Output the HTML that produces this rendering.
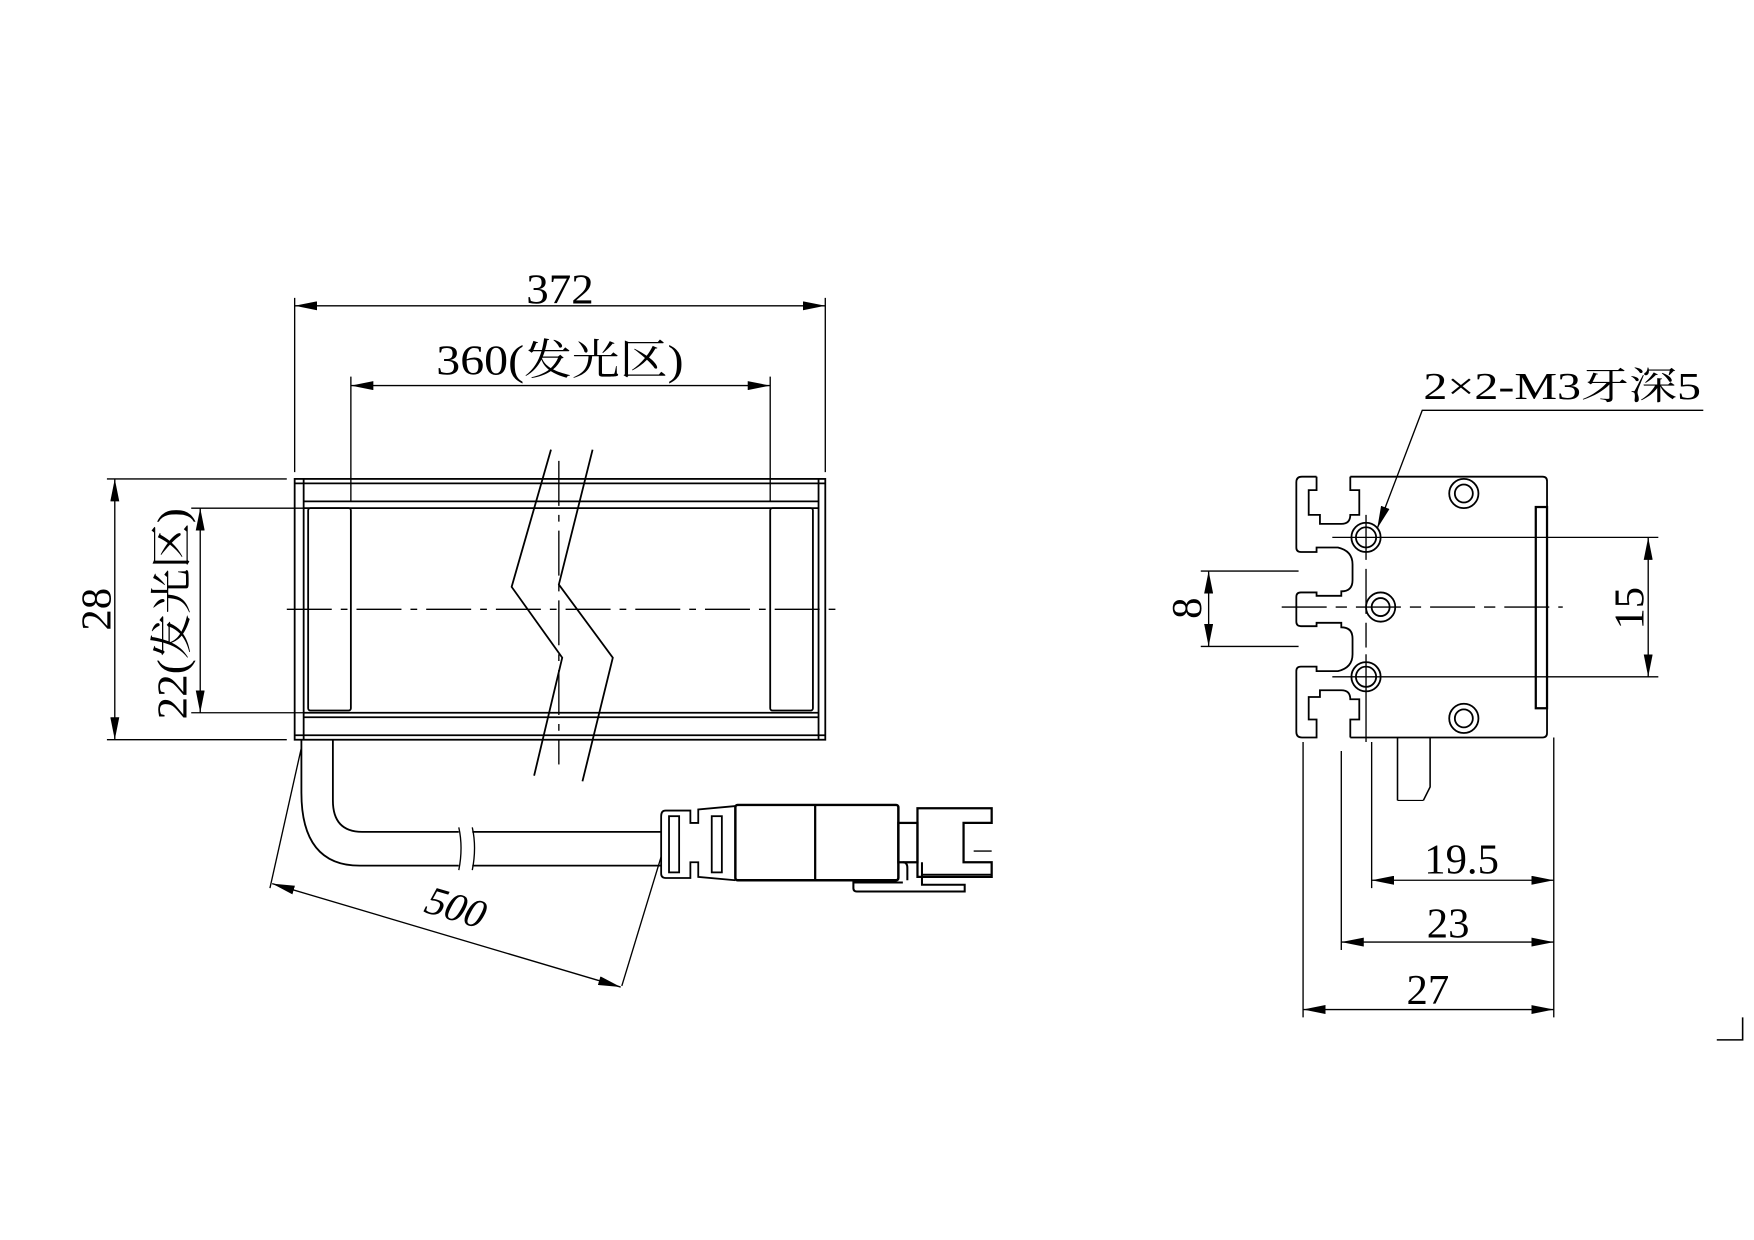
<!DOCTYPE html>
<html><head><meta charset="utf-8"><style>
html,body{margin:0;padding:0;background:#fff}
svg{display:block}
text{font-family:"Liberation Serif","Noto Serif CJK SC",serif;fill:#000}
</style></head><body>
<svg width="1754" height="1240" viewBox="0 0 1560 1103" xmlns="http://www.w3.org/2000/svg">
<defs>
<marker id="a" viewBox="0 0 20 8" refX="20" refY="4" markerWidth="20" markerHeight="8" markerUnits="userSpaceOnUse" orient="auto-start-reverse"><path d="M0,0 L20,4 L0,8 z" fill="#000"/></marker>
</defs>
<g stroke="#000" fill="none" stroke-width="1.6">
<rect x="262" y="426" width="472" height="232"/>
<line x1="262" y1="430" x2="734" y2="430"/>
<line x1="270" y1="446" x2="728" y2="446"/>
<line x1="270" y1="452" x2="728" y2="452"/>
<line x1="270" y1="634" x2="728" y2="634"/>
<line x1="270" y1="638" x2="728" y2="638"/>
<line x1="262" y1="654" x2="734" y2="654"/>
<line x1="270" y1="426" x2="270" y2="658"/>
<line x1="728" y1="426" x2="728" y2="658"/>
<rect x="274" y="452" width="38" height="180" rx="2"/>
<rect x="685" y="452" width="38" height="180" rx="2"/>
<polyline points="490,400 455,522 500,585 475,690"/>
<polyline points="527,400 497,520 545,585 518,695"/>
<line x1="255" y1="542" x2="745" y2="542" stroke-dasharray="40,8,6,8" stroke-width="1.2"/>
<line x1="497" y1="410" x2="497" y2="680" stroke-dasharray="40,8,6,8" stroke-width="1.2"/>
<line x1="262" y1="265" x2="262" y2="420" stroke-width="1.2"/>
<line x1="734" y1="265" x2="734" y2="420" stroke-width="1.2"/>
<line x1="262" y1="272" x2="734" y2="272" marker-start="url(#a)" marker-end="url(#a)" stroke-width="1.2"/>
<line x1="312" y1="335" x2="312" y2="446" stroke-width="1.2"/>
<line x1="685" y1="335" x2="685" y2="446" stroke-width="1.2"/>
<line x1="312" y1="343" x2="685" y2="343" marker-start="url(#a)" marker-end="url(#a)" stroke-width="1.2"/>
<line x1="95" y1="426" x2="255" y2="426" stroke-width="1.2"/>
<line x1="95" y1="658" x2="255" y2="658" stroke-width="1.2"/>
<line x1="102" y1="426" x2="102" y2="658" marker-start="url(#a)" marker-end="url(#a)" stroke-width="1.2"/>
<line x1="170" y1="452" x2="270" y2="452" stroke-width="1.2"/>
<line x1="170" y1="634" x2="270" y2="634" stroke-width="1.2"/>
<line x1="178" y1="452" x2="178" y2="634" marker-start="url(#a)" marker-end="url(#a)" stroke-width="1.2"/>
<path d="M268,658 V705 Q268,770 320,770 H408"/>
<path d="M296,658 V712 Q296,740 322,740 H408"/>
<path d="M420,740 H588 M420,770 H588"/>
<path d="M408,736 q4,18 0,38 M420,736 q4,18 0,38" stroke-width="1.2"/>
<path d="M592,721 L614,721 L614,732 L621,732 L621,720 L654,717 M592,781 L614,781 L614,767 L621,767 L621,780 L654,783 M592,721 Q588,721 588,726 V777 Q588,781 592,781"/>
<rect x="595" y="726" width="9" height="50"/>
<rect x="633" y="726" width="9" height="50"/>
<rect x="654" y="716" width="145" height="67" rx="2" stroke-width="2.2"/>
<line x1="725" y1="716" x2="725" y2="783" stroke-width="2"/>
<rect x="799" y="732" width="17" height="35" stroke-width="2"/>
<path d="M816,719 H882 V732 H857 V767 H882 V780 H816 Z" stroke-width="2"/>
<line x1="820" y1="778" x2="882" y2="778"/>
<line x1="866" y1="757" x2="882" y2="757" stroke-width="1.2"/>
<path d="M803,767 Q807,767 807,772 V783 M820,767 V787 H858 V793 H762 Q759,793 759,790 V785 H803" stroke-width="1.8"/>
<line x1="268" y1="665" x2="240" y2="790" stroke-width="1.2"/>
<line x1="588" y1="762" x2="553" y2="877" stroke-width="1.2"/>
<line x1="242" y1="786" x2="552" y2="878" marker-start="url(#a)" marker-end="url(#a)" stroke-width="1.2"/>
<path d="M1171,424 H1158 Q1153,424 1153,429 V487 Q1153,491 1157,491 H1171 V487 H1190 Q1203,490 1203,502 V516 Q1203,526 1193,526 V530 H1171 V527 H1157 Q1153,527 1153,531 V553 Q1153,557 1157,557 H1171 V554 H1193 V558 Q1203,558 1203,568 V582 Q1203,594 1190,597 H1171 V593 H1157 Q1153,593 1153,597 V651 Q1153,656 1158,656 H1171 V640 H1164 V620 H1174 V614 H1193 Q1201,614 1201,622 H1209 V640 H1201 V656"/>
<path d="M1171,424 V436 H1164 V458 H1174 V466 H1193 Q1201,466 1201,458 H1209 V436 H1201 V424"/>
<path d="M1201,424 H1372 Q1376,424 1376,428 V652 Q1376,656 1372,656 H1201"/>
<rect x="1366" y="451" width="10" height="179" stroke-width="2"/>
<circle cx="1215" cy="478" r="13"/><circle cx="1215" cy="478" r="9"/>
<circle cx="1215" cy="602" r="13"/><circle cx="1215" cy="602" r="9"/>
<circle cx="1228" cy="540" r="13"/><circle cx="1228" cy="540" r="8"/>
<circle cx="1302" cy="439" r="13"/><circle cx="1302" cy="439" r="8"/>
<circle cx="1302" cy="639" r="13"/><circle cx="1302" cy="639" r="8"/>
<line x1="1185" y1="478" x2="1475" y2="478" stroke-width="1.2"/>
<line x1="1185" y1="602" x2="1475" y2="602" stroke-width="1.2"/>
<line x1="1140" y1="540" x2="1390" y2="540" stroke-dasharray="40,8,10,8" stroke-width="1.2"/>
<line x1="1215" y1="458" x2="1215" y2="576" stroke-dasharray="40,8" stroke-width="1.2"/>
<line x1="1215" y1="582" x2="1215" y2="660" stroke-width="1.2"/>
<line x1="1466" y1="478" x2="1466" y2="602" marker-start="url(#a)" marker-end="url(#a)" stroke-width="1.2"/>
<line x1="1068" y1="508" x2="1155" y2="508" stroke-width="1.2"/>
<line x1="1068" y1="575" x2="1155" y2="575" stroke-width="1.2"/>
<line x1="1075" y1="508" x2="1075" y2="575" marker-start="url(#a)" marker-end="url(#a)" stroke-width="1.2"/>
<polyline points="1515,365 1265,365 1225,470" stroke-width="1.2" marker-end="url(#a)"/>
<line x1="1159" y1="660" x2="1159" y2="905" stroke-width="1.2"/>
<line x1="1193" y1="668" x2="1193" y2="845" stroke-width="1.2"/>
<line x1="1220" y1="660" x2="1220" y2="790" stroke-width="1.2"/>
<line x1="1382" y1="656" x2="1382" y2="905" stroke-width="1.2"/>
<line x1="1220" y1="783" x2="1382" y2="783" marker-start="url(#a)" marker-end="url(#a)" stroke-width="1.2"/>
<line x1="1193" y1="838" x2="1382" y2="838" marker-start="url(#a)" marker-end="url(#a)" stroke-width="1.2"/>
<line x1="1159" y1="898" x2="1382" y2="898" marker-start="url(#a)" marker-end="url(#a)" stroke-width="1.2"/>
<path d="M1243,656 V712 M1272,656 V700 L1266,712" stroke-width="1.4"/>
<line x1="1243" y1="712" x2="1266" y2="712" stroke-width="1"/>
<path d="M1527,925 H1550 V905" stroke-width="1.4"/>
</g>
<g font-size="38">
<text x="468" y="270" textLength="60" lengthAdjust="spacingAndGlyphs">372</text>
<text x="388" y="333" textLength="220" lengthAdjust="spacingAndGlyphs">360(发光区)</text>
<text transform="translate(98,542) rotate(-90)" text-anchor="middle">28</text>
<text transform="translate(166,640) rotate(-90)" textLength="188" lengthAdjust="spacingAndGlyphs">22(发光区)</text>
<text transform="translate(400,818) rotate(16.5) skewX(-12)" text-anchor="middle" font-size="36">500</text>
<text x="1266" y="355" textLength="247" lengthAdjust="spacingAndGlyphs" font-size="34">2×2-M3牙深5</text>
<text transform="translate(1068,541) rotate(-90)" text-anchor="middle">8</text>
<text transform="translate(1462,541) rotate(-90)" text-anchor="middle">15</text>
<text x="1300" y="777" text-anchor="middle">19.5</text>
<text x="1288" y="834" text-anchor="middle">23</text>
<text x="1270" y="893" text-anchor="middle">27</text>
</g>
</svg>
</body></html>
